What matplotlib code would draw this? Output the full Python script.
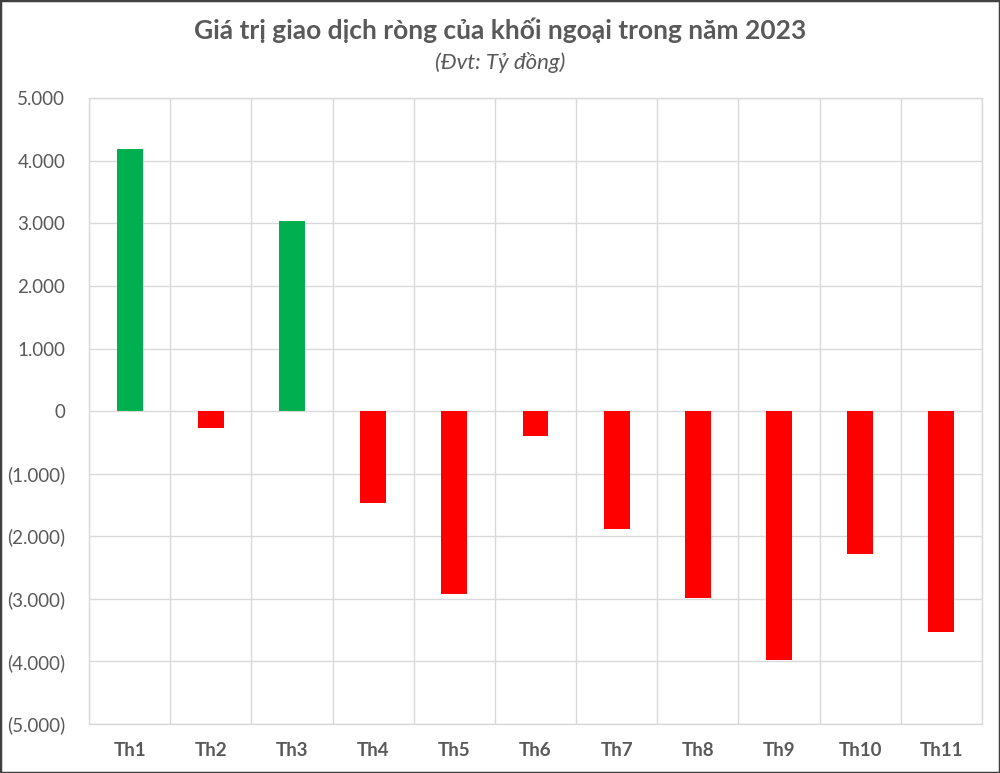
import matplotlib.pyplot as plt
import numpy as np
from matplotlib.patches import Rectangle
from matplotlib.ticker import FuncFormatter

plt.rcParams['font.family'] = ['Lato', 'DejaVu Sans']

# du lieu (ty dong)
thang = ['Th1', 'Th2', 'Th3', 'Th4', 'Th5', 'Th6', 'Th7', 'Th8', 'Th9', 'Th10', 'Th11']
gia_tri = [4190, -270, 3040, -1470, -2930, -400, -1890, -2990, -3980, -2290, -3540]

mau = ['#00b050' if v >= 0 else '#ff0000' for v in gia_tri]
xam = '#595959'

fig = plt.figure(figsize=(10, 7.73), dpi=100)
ax = fig.add_axes([0.089, 0.0637, 0.893, 0.809])

x = np.arange(len(thang))
ax.bar(x, gia_tri, width=0.32, color=mau, zorder=3)

ax.set_xlim(-0.5, len(thang) - 0.5)
ax.set_ylim(-5000, 5000)
ax.set_yticks(np.arange(-5000, 5001, 1000))

def dinh_dang(v, pos):
    s = '{:,.0f}'.format(abs(v)).replace(',', '.')
    return '(' + s + ')' if v < 0 else s

ax.yaxis.set_major_formatter(FuncFormatter(dinh_dang))
ax.set_xticks(x)
ax.set_xticklabels(thang, fontweight='bold')

# luoi
ax.grid(axis='y', color='#d9d9d9', linewidth=1, zorder=0)
for b in np.arange(-0.5, len(thang), 1):
    ax.axvline(b, color='#d9d9d9', linewidth=1, zorder=0)
for s in ax.spines.values():
    s.set_color('#d9d9d9')
    s.set_linewidth(1)

ax.tick_params(axis='both', length=0, colors=xam, labelsize=13.5)
ax.tick_params(axis='x', pad=13)
ax.tick_params(axis='y', pad=17)

fig.text(0.5, 0.961, 'Giá trị giao dịch ròng của khối ngoại trong năm 2023',
         ha='center', va='center', fontsize=19, fontweight='bold', color=xam)
fig.text(0.5, 0.919, '(Đvt: Tỷ đồng)', ha='center', va='center',
         fontsize=16, style='italic', color=xam)

# khung
fig.patches.append(Rectangle((0, 0), 1, 1, transform=fig.transFigure,
                             fill=False, edgecolor='#404040', linewidth=2.5))

fig.savefig('out.png', dpi=100)
